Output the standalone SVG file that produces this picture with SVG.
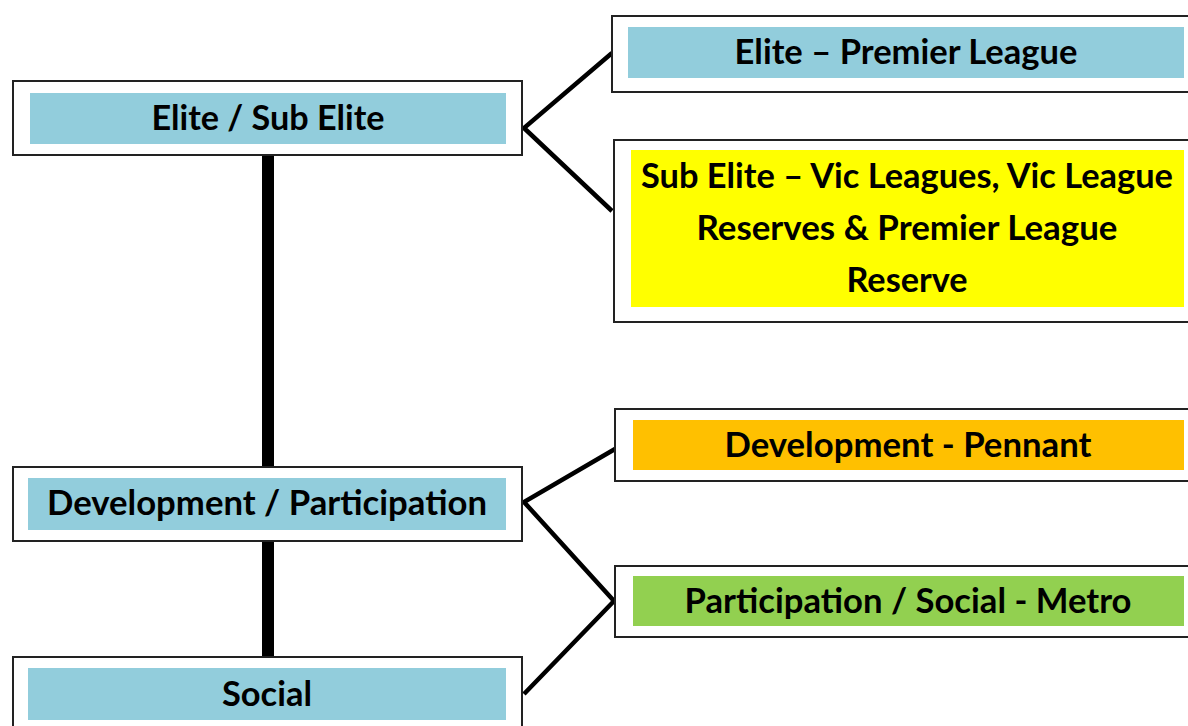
<svg xmlns="http://www.w3.org/2000/svg" width="1188" height="726" viewBox="0 0 1188 726">
<style>
.frame{fill:#fff;stroke:#222;stroke-width:2}
.blue{fill:#92CDDC}
.yellow{fill:#FFFF00}
.orange{fill:#FFC000}
.green{fill:#92D050}
.t{font-family:Lato,"Open Sans","Liberation Sans",sans-serif;font-weight:bold;font-size:34px;fill:#000;text-anchor:middle}
.conn{stroke:#000;stroke-width:4.5;fill:none}
.trunk{stroke:#000;stroke-width:12;fill:none}
</style>
<rect width="1188" height="726" fill="#fff"/>
<g id="connectors">
<line class="trunk" x1="268" y1="155" x2="268" y2="467"/>
<line class="trunk" x1="268" y1="541" x2="268" y2="659"/>
<polyline class="conn" points="612,53 524,128 612,211"/>
<polyline class="conn" points="615,449 524,502 614,601 524,694"/>
</g>
<g id="elite-sub-elite">
<rect class="frame" x="13" y="81" width="509" height="74"/>
<rect class="blue" x="30" y="93" width="476" height="51"/>
<text class="t" x="268" y="130" textLength="233" lengthAdjust="spacingAndGlyphs">Elite / Sub Elite</text>
</g>
<g id="development-participation">
<rect class="frame" x="13" y="467" width="509" height="74"/>
<rect class="blue" x="28" y="478" width="478" height="52"/>
<text class="t" x="267" y="515" textLength="440" lengthAdjust="spacingAndGlyphs">Development / Participation</text>
</g>
<g id="social">
<rect class="frame" x="13" y="657" width="509" height="80"/>
<rect class="blue" x="28" y="668" width="478" height="52"/>
<text class="t" x="267" y="706" textLength="90" lengthAdjust="spacingAndGlyphs">Social</text>
</g>
<g id="elite-premier-league">
<rect class="frame" x="612" y="16" width="590" height="76"/>
<rect class="blue" x="628" y="27" width="556" height="51"/>
<text class="t" x="906" y="64" textLength="343" lengthAdjust="spacingAndGlyphs">Elite – Premier League</text>
</g>
<g id="sub-elite-vic-leagues">
<rect class="frame" x="614" y="140" width="590" height="182"/>
<rect class="yellow" x="631" y="150" width="553" height="157"/>
<text class="t" x="907" y="188" textLength="532" lengthAdjust="spacingAndGlyphs">Sub Elite – Vic Leagues, Vic League</text>
<text class="t" x="907" y="240" textLength="421" lengthAdjust="spacingAndGlyphs">Reserves &amp; Premier League</text>
<text class="t" x="907" y="292" textLength="121" lengthAdjust="spacingAndGlyphs">Reserve</text>
</g>
<g id="development-pennant">
<rect class="frame" x="615" y="409" width="590" height="72"/>
<rect class="orange" x="633" y="420" width="551" height="50"/>
<text class="t" x="908" y="457" textLength="367" lengthAdjust="spacingAndGlyphs">Development - Pennant</text>
</g>
<g id="participation-social-metro">
<rect class="frame" x="615" y="566" width="590" height="71"/>
<rect class="green" x="633" y="576" width="551" height="50"/>
<text class="t" x="908" y="613" textLength="447" lengthAdjust="spacingAndGlyphs">Participation / Social - Metro</text>
</g>
</svg>
